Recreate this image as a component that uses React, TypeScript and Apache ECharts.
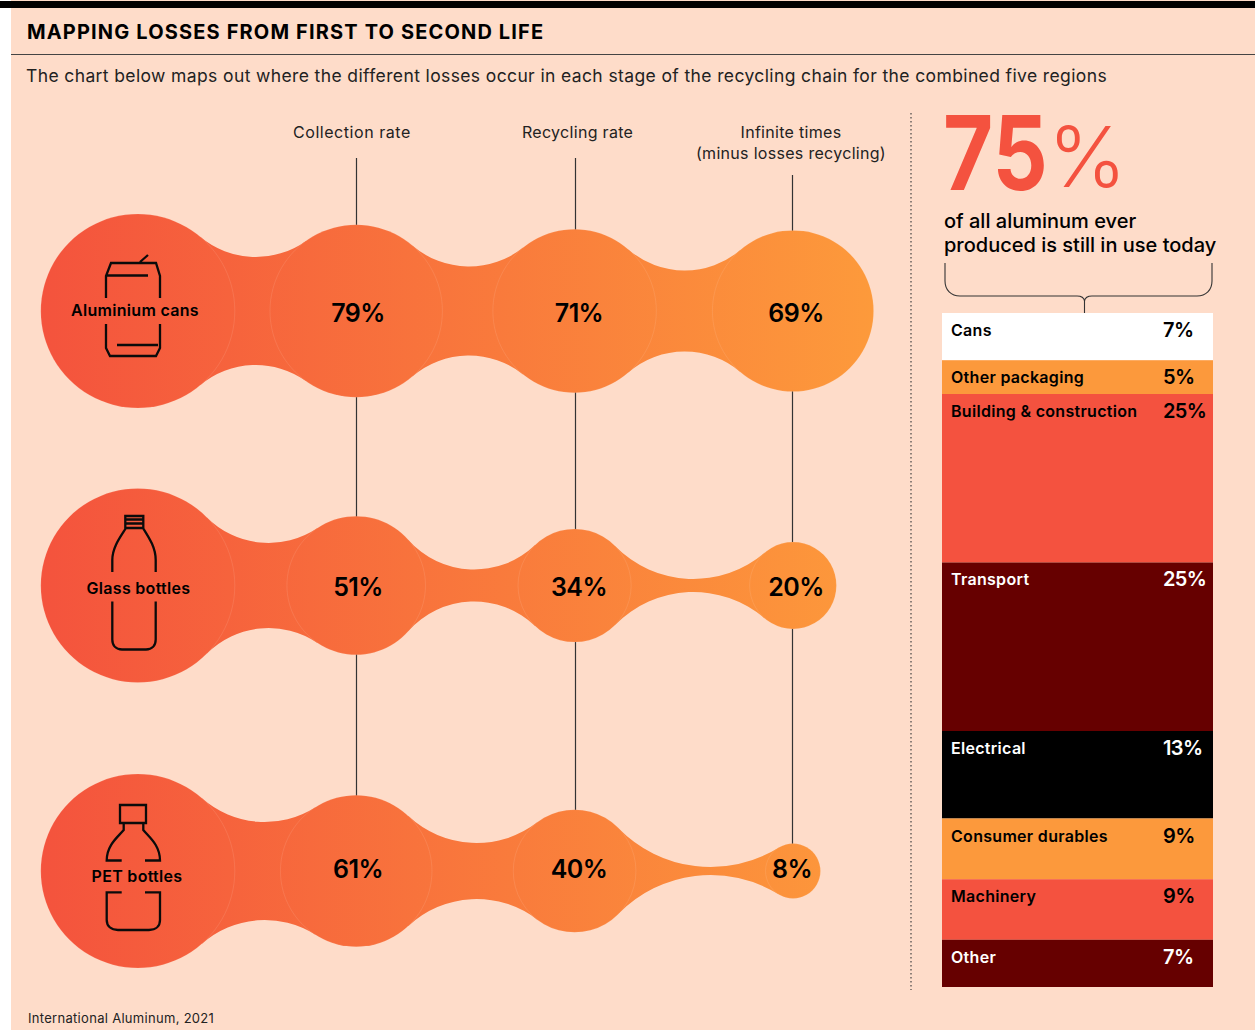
import React, { useEffect, useRef } from "react";
import * as echarts from "echarts";

// ---- Data ----
const stages = ["Start", "Collection rate", "Recycling rate", "Infinite times"];
const productNames = ["Aluminium cans", "Glass bottles", "PET bottles"];
const aluminiumCans = [100, 79, 71, 69];
const glassBottles = [100, 51, 34, 20];
const petBottles = [100, 61, 40, 8];
const canNecks = [54, 44.5, 40.5];
const glassNecks = [42.5, 16, 6.5];
const petNecks = [49, 28, 4];

const useNames = ["Cans", "Other packaging", "Building & construction", "Transport", "Electrical", "Consumer durables", "Machinery", "Other"];
const useShares = [7, 5, 25, 25, 13, 9, 9, 7];
const useFills = ["#FFFFFF", "#FC993C", "#F4523F", "#660000", "#000000", "#FC993C", "#F4523F", "#660000"];
const useInks = ["#000", "#000", "#000", "#fff", "#fff", "#000", "#000", "#fff"];

// ---- Layout ----
const FONT = "Inter";
const PANEL = "#FEDCC9";
const INK = "#000000";
const STEP = 218.4;
const FIRST_X = 137.8;
const ROW_Y = [311, 585.5, 871];
const STEM_X = [356.5, 575.5, 792.5];
const RADIUS_PER_ROOT = 9.7;
const NAME_DX = [-2.8, 0.7, -0.8];
const NAME_DY = [-1, 2.5, 5];
const VALUE_DX = [0, 1.8, 4.4, 3];
const VALUE_DY = [2, 1, -2];
const radiusOf = (v: number) => RADIUS_PER_ROOT * Math.sqrt(v);

// Icons are outlined around their circle's centre.
const ICONS = [
  "M-31 -13V-35L-26 -48H19L23 -35V-13M-31 -35.5H11M3 -49L11 -56M-31 13V37L-27 45H19L23 37V13M-20 34H21",
  "M-11.7 -69.5H6.3V-57.5H-11.7ZM-11.7 -66H6.3M-11.7 -62H6.3M-11 -57.5C-17 -48 -24.7 -38 -24.7 -25.5V-13.5M6 -57.5C12 -48 18.7 -38 18.7 -25.5V-13.5M-24.7 16V54C-24.7 60 -21 64 -15 64H9C15 64 18.7 60 18.7 54V16",
  "M-17 -66H9V-48H-17ZM-13.3 -48V-41C-19 -34 -30.3 -26 -30.3 -10.5H-15.3M6.3 -48V-41C12 -34 23 -26 23 -10.5H8M-15.3 21.3H-30.3V49C-30.3 55 -26 59 -19 59H12C19 59 23 55 23 49V21.3H8",
];

const BRACE = "M945 263V281C945 290 951 296 960 296H1077C1081 296 1084 298 1084.5 301C1085 298 1088 296 1092 296H1197C1206 296 1212 290 1212 281V263M1084.5 301V313";

const HEADLINE = "MAPPING LOSSES FROM FIRST TO SECOND LIFE";
const INTRO = "The chart below maps out where the different losses occur in each stage of the recycling chain for the combined five regions";
const CALLOUT = ["of all aluminum ever", "produced is still in use today"];

echarts.graphic.registerShape("brace", echarts.graphic.extendPath(BRACE, {}) as any);

const blobFill = () =>
  new echarts.graphic.LinearGradient(41, 0, 873, 0, [
    { offset: 0, color: "#F4533D" },
    { offset: 1, color: "#FD9A3B" },
  ], true);

// Finds the arc that is tangent to both neighbouring circles and passes `neck` px from the row axis.
function neckPath(ax: number, ra: number, bx: number, rb: number, cy: number, neck: number) {
  const d = bx - ax;
  const span = (R: number) =>
    Math.sqrt((ra + R) ** 2 - (neck + R) ** 2) + Math.sqrt((rb + R) ** 2 - (neck + R) ** 2) - d;
  let lo = 0;
  let hi = 4000;
  for (let i = 0; i < 60; i++) {
    const mid = (lo + hi) / 2;
    if (span(mid) > 0) hi = mid;
    else lo = mid;
  }
  const R = (lo + hi) / 2;
  const dy = neck + R;
  const cx = ax + Math.sqrt((ra + R) ** 2 - dy ** 2);
  const tax = ax + ((cx - ax) * ra) / (ra + R);
  const tay = (dy * ra) / (ra + R);
  const tbx = bx + ((cx - bx) * rb) / (rb + R);
  const tby = (dy * rb) / (rb + R);
  return (
    `M${tax} ${cy - tay}A${R} ${R} 0 0 0 ${tbx} ${cy - tby}` +
    `L${tbx} ${cy + tby}A${R} ${R} 0 0 0 ${tax} ${cy + tay}Z`
  );
}

function blobSeries(row: number, values: number[], necks: number[]) {
  return {
    type: "custom",
    name: productNames[row],
    xAxisIndex: row,
    yAxisIndex: row,
    clip: false,
    data: values.map((v, i) => [i, 0, v]),
    encode: { x: 0, y: 1 },
    renderItem: (params: any, api: any) => {
      const i = params.dataIndex;
      const [cx, cy] = api.coord([i, 0]);
      const value = api.value(2);
      const r = radiusOf(value);
      const children: any[] = [];
      if (i < values.length - 1) {
        const [nx] = api.coord([i + 1, 0]);
        children.push({
          type: "path",
          shape: { pathData: neckPath(cx, r, nx, radiusOf(values[i + 1]), cy, necks[i]) },
          style: { fill: blobFill() },
        });
      }
      children.push({
        type: "circle",
        shape: { cx, cy, r },
        style: { fill: blobFill(), stroke: "rgba(255,226,205,0.25)", lineWidth: 0.5 },
      });
      if (i === 0) {
        children.push({
          type: "path",
          x: cx - 0.8,
          y: cy,
          shape: { pathData: ICONS[row] },
          style: { fill: "none", stroke: "#0b0b0b", lineWidth: 2.3 },
        });
        children.push({
          type: "text",
          style: {
            text: productNames[row],
            x: cx + NAME_DX[row],
            y: cy + NAME_DY[row],
            fill: INK,
            font: `600 16px ${FONT}`,
            align: "center",
            verticalAlign: "middle",
          },
        });
      } else {
        // The smallest circle's label sits on the circle's centre.
        const dx = value < 10 ? -1 : VALUE_DX[i];
        children.push({
          type: "text",
          style: {
            text: `${value}%`,
            x: cx + dx,
            y: cy + VALUE_DY[row],
            fill: INK,
            font: `600 25px ${FONT}`,
            align: "center",
            verticalAlign: "middle",
          },
        });
      }
      return { type: "group", children };
    },
  };
}

const textEl = (text: string, x: number, y: number, font: string, fill = INK, align = "left") => ({
  type: "text",
  z: 1,
  style: { text, x, y, font: `${font} ${FONT}`, fill, align, verticalAlign: "middle" },
});
const ruleEl = (x1: number, y1: number, x2: number, y2: number, stroke = "#333", lineWidth = 1, lineDash?: number[]) => ({
  type: "line",
  z: 1,
  shape: { x1, y1, x2, y2 },
  style: { stroke, lineWidth, lineDash },
});

// Tracking per text: the headline is set wide, percentages tight.
function trackingFor(text: string) {
  if (text === HEADLINE) return "1.15px";
  if (text === INTRO) return "0.38px";
  if (text === stages[1]) return "0.55px";
  if (CALLOUT.includes(text) || text === "75" || text === "%") return "0";
  if (text.endsWith("%")) return "-0.6px";
  return "0.3px";
}

export default function App() {
  const ref = useRef<HTMLDivElement>(null);

  useEffect(() => {
    const chart = echarts.init(ref.current!, undefined, { renderer: "svg" });
    const grids = ROW_Y.map((y) => ({ left: FIRST_X - STEP / 2, width: STEP * 4, top: y - 110, height: 220 }));
    const hiddenCategory = (gridIndex: number, data: string[]) => ({ type: "category", gridIndex, data, show: false });

    chart.setOption({
      animation: false,
      backgroundColor: "#FFFFFF",
      grid: [...grids, { left: 942, width: 271, top: 313, height: 674 }],
      xAxis: [
        hiddenCategory(0, stages),
        hiddenCategory(1, stages),
        hiddenCategory(2, stages),
        hiddenCategory(3, ["Share"]),
      ],
      yAxis: [
        hiddenCategory(0, [productNames[0]]),
        hiddenCategory(1, [productNames[1]]),
        hiddenCategory(2, [productNames[2]]),
        { type: "value", gridIndex: 3, min: 0, max: 100, inverse: true, show: false },
      ],
      graphic: [
        { type: "rect", z: 0, shape: { x: 11, y: 0, width: 1244, height: 1030 }, style: { fill: PANEL } },
        { type: "rect", z: 0, shape: { x: 0, y: 1, width: 1255, height: 7 }, style: { fill: "#000" } },
        ruleEl(11, 54.5, 1255, 54.5, "#444", 1),
        textEl(HEADLINE, 27, 32, "700 20px"),
        textEl(INTRO, 26, 75, "400 17.5px", "#222"),
        textEl(stages[1], 293, 131.5, "400 16px", "#222"),
        textEl(stages[2], 522, 131.5, "400 16px", "#222"),
        textEl(stages[3], 791, 131.5, "400 16px", "#222", "center"),
        textEl("(minus losses recycling)", 791, 152.5, "400 16px", "#222", "center"),
        ruleEl(STEM_X[0], 158, STEM_X[0], 800, "#333", 1.2),
        ruleEl(STEM_X[1], 158, STEM_X[1], 815, "#333", 1.2),
        ruleEl(STEM_X[2], 175, STEM_X[2], 850, "#333", 1.2),
        ruleEl(911, 113, 911, 990, "#444", 1.2, [1.5, 2.5]),
        {
          type: "text",
          z: 1,
          x: 943,
          y: 153,
          scaleX: 0.84,
          style: { text: "75", x: 0, y: 0, font: `700 103px ${FONT}`, fill: "#F4523F", align: "left", verticalAlign: "middle" },
        },
        textEl("%", 1048, 156, "300 84px", "#F4523F"),
        textEl(CALLOUT[0], 944, 221, "500 20px"),
        textEl(CALLOUT[1], 944, 245, "500 20px"),
        { type: "brace", z: 1, style: { fill: "none", stroke: "#333", lineWidth: 1.1 } },
        textEl("International Aluminum, 2021", 28, 1018, "400 13px", "#222"),
      ],
      series: [
        blobSeries(0, aluminiumCans, canNecks),
        blobSeries(1, glassBottles, glassNecks),
        blobSeries(2, petBottles, petNecks),
        ...useNames.map((name, i) => ({
          type: "bar",
          name,
          stack: "uses",
          xAxisIndex: 3,
          yAxisIndex: 3,
          barWidth: "100%",
          data: [useShares[i]],
          itemStyle: { color: useFills[i] },
          label: {
            show: true,
            position: "insideTopLeft",
            distance: 9,
            formatter: `{n|${name}}{p|${useShares[i]}%}`,
            rich: {
              n: { width: 212, fontFamily: FONT, fontSize: 16, fontWeight: 600, color: useInks[i], lineHeight: 16 },
              p: { fontFamily: FONT, fontSize: 20, fontWeight: 600, color: useInks[i], lineHeight: 16 },
            },
          },
        })),
      ],
    });

    ref.current!.querySelectorAll("text").forEach((node) => {
      (node as SVGTextElement).style.letterSpacing = trackingFor(node.textContent ?? "");
    });

    return () => chart.dispose();
  }, []);

  return <div ref={ref} style={{ position: "absolute", left: 0, top: 0, width: 1255, height: 1030 }} />;
}
